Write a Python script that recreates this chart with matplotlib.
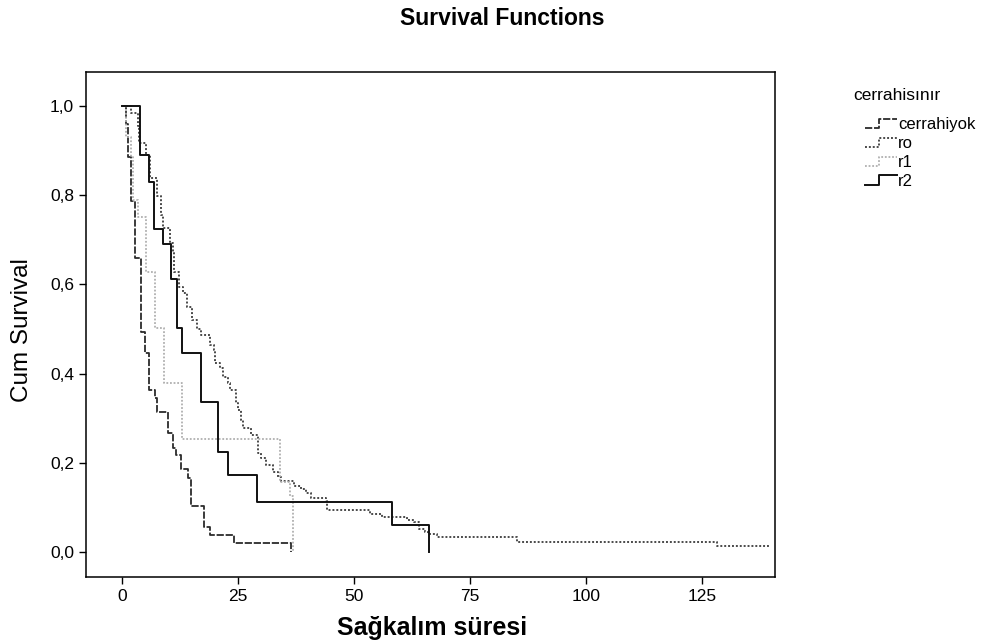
import matplotlib
matplotlib.use("Agg")
import matplotlib.pyplot as plt
from matplotlib.lines import Line2D
from matplotlib.legend_handler import HandlerBase

plt.rcParams['font.family'] = ['Liberation Sans', 'DejaVu Sans']

# Kaplan-Meier basamakları (okunan değerler)
t_cerrahiyok = [0, 0.8, 1.3, 1.9, 2.7, 4.0, 4.9, 5.8, 7.0, 7.6, 9.9, 10.9, 11.6,
                12.7, 14.1, 14.8, 17.6, 19.0, 24.0, 36.3]
s_cerrahiyok = [1.0, 0.96, 0.886, 0.787, 0.659, 0.494, 0.446, 0.363, 0.345, 0.315,
                0.266, 0.234, 0.217, 0.186, 0.167, 0.104, 0.057, 0.038, 0.020, 0.0]

t_ro = [0, 1.9, 3.3, 3.6, 5.2, 6.0, 7.4, 8.3, 8.8, 10.4, 10.9, 11.1, 12.3, 13.0,
        14.0, 15.1, 16.2, 16.9, 19.0, 19.7, 20.0, 21.1, 21.8, 22.9, 23.2, 24.6,
        25.0, 25.7, 26.0, 27.8, 29.2, 29.9, 31.0, 32.4, 33.5, 34.2, 37.0, 38.5,
        39.6, 40.6, 43.9, 44.2, 53.5, 56.0, 61.4, 62.8, 63.9, 65.3, 66.0, 67.8,
        85.1, 128.2, 139.7]
s_ro = [1.0, 0.984, 0.954, 0.917, 0.890, 0.838, 0.797, 0.756, 0.726, 0.692, 0.670,
        0.628, 0.595, 0.580, 0.550, 0.520, 0.500, 0.487, 0.464, 0.453, 0.423, 0.412,
        0.393, 0.378, 0.363, 0.333, 0.318, 0.296, 0.277, 0.262, 0.221, 0.210, 0.195,
        0.180, 0.169, 0.160, 0.149, 0.141, 0.133, 0.122, 0.114, 0.095, 0.086, 0.078,
        0.071, 0.067, 0.052, 0.046, 0.041, 0.033, 0.022, 0.014, 0.014]

t_r1 = [0, 0.8, 1.8, 2.4, 3.4, 5.1, 7.1, 9.0, 12.8, 33.9, 36.2, 36.7]
s_r1 = [1.0, 0.93, 0.886, 0.789, 0.752, 0.628, 0.502, 0.380, 0.254, 0.157, 0.125, 0.0]

t_r2 = [0, 3.8, 5.7, 6.9, 8.8, 10.5, 11.9, 12.8, 16.9, 20.7, 22.7, 29.0, 58.2, 66.1]
s_r2 = [1.0, 0.889, 0.829, 0.724, 0.690, 0.612, 0.502, 0.447, 0.337, 0.224,
        0.172, 0.112, 0.061, 0.0]

groups = ["cerrahiyok", "ro", "r1", "r2"]
x_ticks = [0, 25, 50, 75, 100, 125]
y_ticks = [0.0, 0.2, 0.4, 0.6, 0.8, 1.0]
y_ticklabels = ["0,0", "0,2", "0,4", "0,6", "0,8", "1,0"]

styles = {
    "cerrahiyok": dict(color="#2b2b2b", linestyle=(0, (4, 1)), linewidth=1.3),
    "ro": dict(color="#4a4a4a", linestyle=(0, (1, 1)), linewidth=1.4),
    "r1": dict(color="#b0b0b0", linestyle=(0, (1, 1)), linewidth=1.3),
    "r2": dict(color="#111111", linestyle="-", linewidth=1.4),
}
data = {
    "cerrahiyok": (t_cerrahiyok, s_cerrahiyok),
    "ro": (t_ro, s_ro),
    "r1": (t_r1, s_r1),
    "r2": (t_r2, s_r2),
}


class StepHandler(HandlerBase):
    # legend simgesi: küçük bir basamak
    def create_artists(self, legend, orig_handle, xdescent, ydescent,
                       width, height, fontsize, trans):
        x0 = -xdescent
        lo = -ydescent + height * 0.1
        hi = -ydescent + height * 0.85
        xs = [x0, x0 + width * 0.45, x0 + width * 0.45, x0 + width]
        ys = [lo, lo, hi, hi]
        ln = Line2D(xs, ys)
        ln.update_from(orig_handle)
        ln.set_transform(trans)
        return [ln]


fig = plt.figure(figsize=(10.05, 6.43), dpi=100)
ax = fig.add_axes([0.0856, 0.1026, 0.6856, 0.7854])

for g in groups:
    t, s = data[g]
    ax.plot(t, s, drawstyle="steps-post", **styles[g])

ax.set_xlim(-7.8, 140.7)
ax.set_ylim(-0.056, 1.076)
ax.set_xticks(x_ticks)
ax.set_xticklabels([str(v) for v in x_ticks])
ax.set_yticks(y_ticks)
ax.set_yticklabels(y_ticklabels)
ax.tick_params(labelsize=12.5, length=5, width=1, direction="out")
for sp in ax.spines.values():
    sp.set_linewidth(1.1)

ax.set_xlabel("Sağkalım süresi", fontsize=18, fontweight="bold")
ax.xaxis.set_label_coords(0.502, -0.078)
ax.set_ylabel("Cum Survival", fontsize=17.5)
ax.yaxis.set_label_coords(-0.077, 0.489)

fig.suptitle("Survival Functions", x=0.5, y=0.972, va="center",
             fontsize=16.5, fontweight="bold")

fig.text(897 / 1005, 1 - 95 / 643, "cerrahisınır", ha="center", va="center",
         fontsize=12.5)
handles = [Line2D([], [], **styles[g]) for g in groups]
leg = fig.legend(handles, groups, loc="upper left",
                 bbox_to_anchor=(865 / 1005, 1 - 117 / 643), frameon=False,
                 fontsize=12, handlelength=1.9, handleheight=0.8,
                 handletextpad=0.1, labelspacing=0.22, borderpad=0,
                 borderaxespad=0, handler_map={Line2D: StepHandler()})

fig.savefig("out.png", dpi=100)
